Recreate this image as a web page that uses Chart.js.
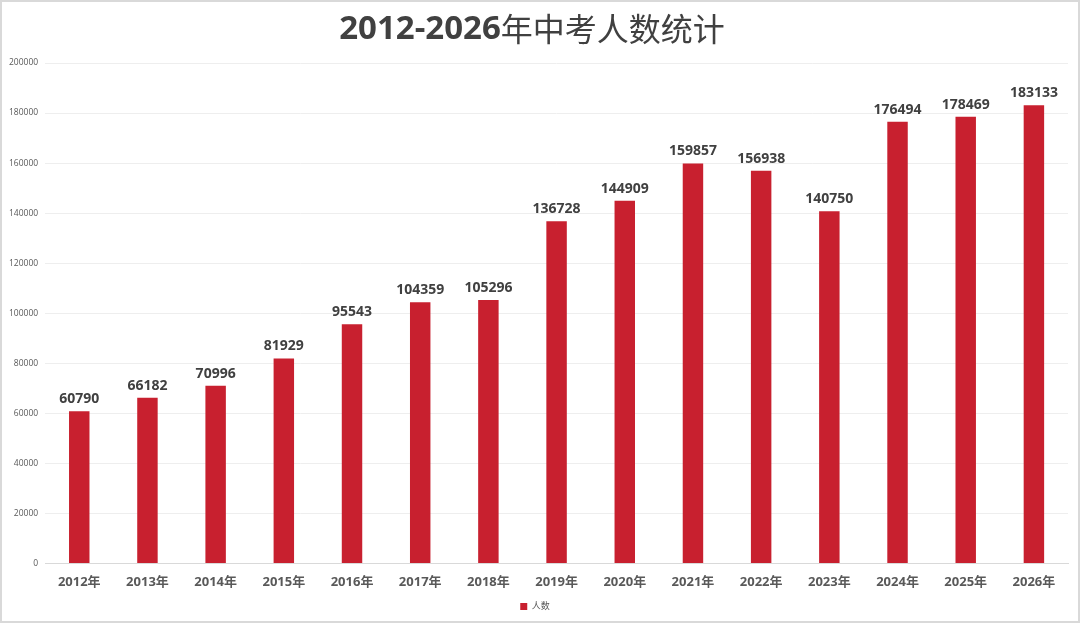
<!DOCTYPE html>
<html>
<head>
<meta charset="utf-8">
<script src="https://cdn.jsdelivr.net/npm/chart.js@4"></script>
<style>
  html, body { margin: 0; padding: 0; background: #fff; }
  .frame { position: relative; width: 1080px; height: 623px; box-sizing: border-box; border: 2px solid #d9d9d9; }
  canvas { display: block; }
</style>
</head>
<body>
<div class="frame"><canvas id="bar-chart" width="1076" height="619"></canvas></div>
<script>
const years = ['2012年', '2013年', '2014年', '2015年', '2016年', '2017年', '2018年', '2019年',
  '2020年', '2021年', '2022年', '2023年', '2024年', '2025年', '2026年'];
const students = [60790, 66182, 70996, 81929, 95543, 104359, 105296, 136728,
  144909, 159857, 156938, 140750, 176494, 178469, 183133];
const yTicks = [0, 20000, 40000, 60000, 80000, 100000, 120000, 140000, 160000, 180000, 200000];

const titleNum = '2012-2026';
const titleText = '年中考人数统计';

const barColor = '#c8202f';
const cnFont = '"Open Sans", "Noto Sans CJK SC", sans-serif';

// title: bold digits, regular chinese
const titlePlugin = {
  id: 'mixedTitle',
  afterDraw(chart) {
    const ctx = chart.ctx;
    ctx.save();
    ctx.fillStyle = '#404040';
    ctx.textBaseline = 'middle';
    ctx.textAlign = 'left';
    const boldFont = 'bold 33px ' + cnFont;
    const normFont = '32px "Noto Sans CJK SC", sans-serif';
    ctx.font = boldFont;
    const w1 = ctx.measureText(titleNum).width;
    ctx.font = normFont;
    const w2 = ctx.measureText(titleText).width;
    let x = 530 - (w1 + w2) / 2;
    ctx.font = boldFont;
    ctx.fillText(titleNum, x, 28);
    ctx.font = normFont;
    ctx.fillText(titleText, x + w1, 27);
    ctx.restore();
  }
};

// values above each bar
const barLabels = {
  id: 'barLabels',
  afterDatasetsDraw(chart) {
    const ctx = chart.ctx;
    const meta = chart.getDatasetMeta(0);
    ctx.save();
    ctx.font = 'bold 14px ' + cnFont;
    ctx.fillStyle = '#404040';
    ctx.textAlign = 'center';
    ctx.textBaseline = 'bottom';
    meta.data.forEach((bar, i) => {
      ctx.fillText(students[i], bar.x, bar.y - 5);
    });
    ctx.restore();
  }
};

const ctx = document.getElementById('bar-chart').getContext('2d');
const myChart = new Chart(ctx, {
  type: 'bar',
  data: {
    labels: years,
    datasets: [{
      label: '人数',
      data: students,
      backgroundColor: barColor,
      borderWidth: 0,
      categoryPercentage: 1,
      barPercentage: 0.3
    }]
  },
  options: {
    responsive: false,
    animation: false,
    layout: { padding: { left: 0, right: 10, top: 61, bottom: 0 } },
    plugins: {
      title: { display: false },
      legend: {
        position: 'bottom',
        labels: {
          color: '#595959',
          font: { family: cnFont, size: 9 },
          boxWidth: 7,
          boxHeight: 7,
          padding: 9
        }
      },
      tooltip: { enabled: false }
    },
    scales: {
      x: {
        grid: { display: false },
        border: { color: '#d9d9d9' },
        ticks: {
          color: '#595959',
          font: { family: cnFont, size: 13, weight: 'bold' },
          padding: 3
        }
      },
      y: {
        min: 0,
        max: 200000,
        afterBuildTicks(axis) {
          axis.ticks = yTicks.map(v => ({ value: v }));
        },
        grid: { color: '#eeeeee', drawTicks: false },
        border: { display: false },
        ticks: {
          color: '#595959',
          font: { family: cnFont, size: 8.5 },
          padding: 7,
          callback: v => String(v)
        }
      }
    }
  },
  plugins: [barLabels, titlePlugin]
});
</script>
</body>
</html>
